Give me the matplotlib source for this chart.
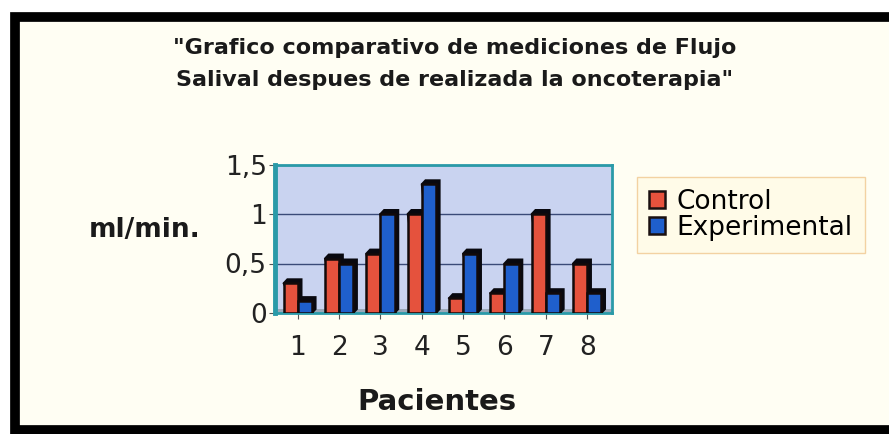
import numpy as np
import matplotlib
matplotlib.use("Agg")
import matplotlib.pyplot as plt
from matplotlib.patches import Rectangle, Polygon

plt.rcParams['font.family'] = ['DejaVu Sans']

pacientes = ['1', '2', '3', '4', '5', '6', '7', '8']
control = [0.3, 0.55, 0.6, 1.0, 0.15, 0.2, 1.0, 0.5]
experimental = [0.12, 0.5, 1.0, 1.3, 0.6, 0.5, 0.2, 0.2]
yticks = [0, 0.5, 1, 1.5]
ylabels = ['0', '0,5', '1', '1,5']
col_control = '#e5523d'
col_exp = '#1f5fcc'

fig = plt.figure(figsize=(8.89, 4.34), dpi=100)
fig.patch.set_facecolor('white')

# marco exterior negro con fondo crema
W, H = 889.0, 434.0
marco = Rectangle((15 / W, 4 / H), 880 / W, 413 / H, transform=fig.transFigure,
                  facecolor='#fffef3', edgecolor='black', linewidth=7, zorder=-10)
fig.add_artist(marco)

ax = fig.add_axes([275 / W, 121 / H, 337 / W, 148.5 / H])
ax.set_facecolor('#c9d3f0')
ax.set_xlim(0.45, 8.6)
ax.set_ylim(0, 1.5)

x = np.arange(1, len(pacientes) + 1)
w = 0.34
dx, dy = 0.09, 0.04

# piso del grafico 3D
piso = Polygon([(0.45, 0), (8.6, 0), (8.6, dy), (0.45, dy)], closed=True,
               facecolor='#9aa8b8', edgecolor='none', zorder=2)
ax.add_patch(piso)

def barras(xs, hs, color):
    for xi, hi in zip(xs, hs):
        x0, x1 = xi - w / 2, xi + w / 2
        sombra = Polygon([(x1, 0), (x1 + dx, dy), (x1 + dx, hi + dy), (x0 + dx, hi + dy), (x0, hi)],
                         closed=True, facecolor='#08080f', edgecolor='#08080f', lw=1.5, zorder=3)
        ax.add_patch(sombra)
    ax.bar(xs, hs, width=w, color=color, edgecolor='#120a0a', linewidth=1.8, zorder=4)

barras(x - w / 2, control, col_control)
barras(x + w / 2, experimental, col_exp)

ax.set_yticks(yticks)
ax.set_yticklabels(ylabels, fontsize=19, color='#222222')
ax.set_xticks(x)
ax.set_xticklabels(pacientes, fontsize=19, color='#222222')
ax.yaxis.grid(True, color='#3a4a78', linewidth=1)
ax.set_axisbelow(True)
for s in ax.spines.values():
    s.set_color('#2a9aa8')
    s.set_linewidth(2)
ax.spines['left'].set_linewidth(3.5)
ax.tick_params(axis='y', color='#555555', length=4, pad=2)
ax.tick_params(axis='x', color='#555555', length=4, pad=12)

fig.text(455 / W, 1 - 48 / H, '"Grafico comparativo de mediciones de Flujo',
         ha='center', va='center', fontsize=16, fontweight='bold', color='#1a1a1a')
fig.text(455 / W, 1 - 80 / H, 'Salival despues de realizada la oncoterapia"',
         ha='center', va='center', fontsize=16, fontweight='bold', color='#1a1a1a')
fig.text(145 / W, 1 - 230 / H, 'ml/min.', ha='center', va='center',
         fontsize=19, fontweight='bold', color='#1a1a1a')
fig.text(437 / W, 1 - 402 / H, 'Pacientes', ha='center', va='center',
         fontsize=21, fontweight='bold', color='#1a1a1a')

handles = [Rectangle((0, 0), 1, 1, facecolor=col_control, edgecolor='#1a1010', lw=1.8),
           Rectangle((0, 0), 1, 1, facecolor=col_exp, edgecolor='#1a1010', lw=1.8)]
leg = fig.legend(handles, ['Control', 'Experimental'], loc='upper left',
                 bbox_to_anchor=(637 / W, 1 - 177 / H), fontsize=19,
                 handlelength=0.6, handleheight=0.6, handletextpad=0.45,
                 borderpad=0.45, labelspacing=0.0, borderaxespad=0,
                 fancybox=False, frameon=True)
leg.get_frame().set_facecolor('#fffbe6')
leg.get_frame().set_edgecolor('#f0c890')

fig.savefig('out.png', dpi=100)
